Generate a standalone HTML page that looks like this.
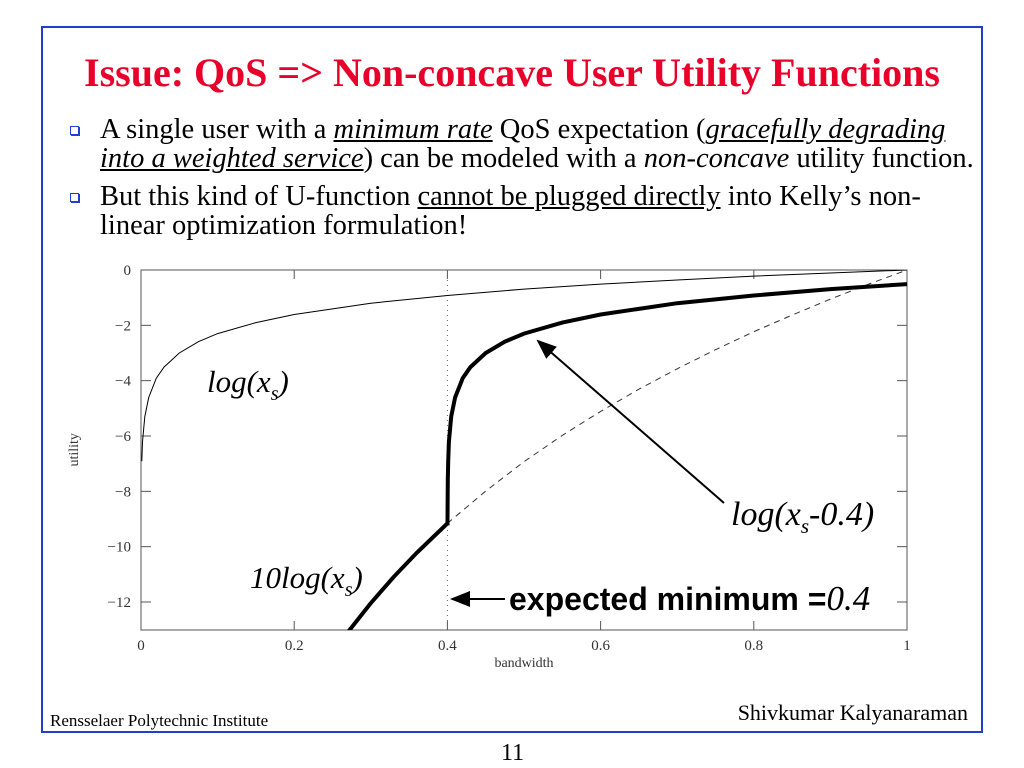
<!DOCTYPE html>
<html><head><meta charset="utf-8"><style>
body{margin:0;width:1024px;height:768px;background:#fff;position:relative;overflow:hidden;font-family:"Liberation Serif",serif}
.frame{position:absolute;left:41px;top:26px;width:942px;height:707px;border:2px solid #1f3fd0;box-sizing:border-box}
h1{position:absolute;left:0;width:1024px;top:49px;margin:0;text-align:center;color:#e8002a;font-size:40px;line-height:48px;font-weight:bold;white-space:nowrap}
.b{position:absolute;left:62px;font-size:28.5px;line-height:28.5px;color:#000;width:920px;white-space:nowrap}
.b .sq{position:absolute;left:8px;top:10px;width:7px;height:7px;border:1.5px solid #1f3fd0;box-shadow:1px 1px 0 #1f3fd0}
.b .t{margin-left:38px}
.foot{position:absolute;font-size:17px;left:50px;top:711px}
.auth{position:absolute;font-size:22px;right:56px;top:700px}
.pg{position:absolute;font-size:24px;left:501px;top:740px}
svg{position:absolute;left:0;top:0}
</style></head><body>
<div class="frame"></div>
<h1>Issue: QoS =&gt; Non-concave User Utility Functions</h1>
<div class="b" style="top:116px"><span class="sq"></span><div class="t">A single user with a <i><u>minimum rate</u></i> QoS expectation (<i><u>gracefully degrading</u></i><br><i><u>into a weighted service</u></i>) can be modeled with a <i>non-concave</i> utility function.</div></div>
<div class="b" style="top:183px"><span class="sq"></span><div class="t">But this kind of U-function <u>cannot be plugged directly</u> into Kelly’s non-<br>linear optimization formulation!</div></div>
<div class="foot">Rensselaer Polytechnic Institute</div>
<div class="auth">Shivkumar Kalyanaraman</div>
<div class="pg">11</div>
<svg id="chart" width="1024" height="768"></svg>
<script>
const xTicks=[0,0.2,0.4,0.6,0.8,1];
const yTicks=[0,-2,-4,-6,-8,-10,-12];
const logX=[0.001,0.002,0.005,0.01,0.02,0.03,0.05,0.075,0.1,0.15,0.2,0.3,0.4,0.5,0.6,0.7,0.8,0.9,1];
const logY=[-6.91,-6.21,-5.30,-4.61,-3.91,-3.51,-3.00,-2.59,-2.30,-1.90,-1.61,-1.20,-0.92,-0.69,-0.51,-0.36,-0.22,-0.11,0];
const dashX=[0.4,0.45,0.5,0.55,0.6,0.65,0.7,0.75,0.8,0.85,0.9,0.95,1];
const dashY=[-9.16,-7.99,-6.93,-5.98,-5.11,-4.31,-3.57,-2.88,-2.23,-1.63,-1.05,-0.51,0];
const boldX=[0.27,0.3,0.33,0.36,0.4,0.4001,0.4002,0.4005,0.401,0.402,0.405,0.41,0.42,0.43,0.45,0.475,0.5,0.55,0.6,0.7,0.8,0.9,1];
const boldY=[-13.09,-12.04,-11.09,-10.22,-9.16,-9.16,-8.52,-7.60,-6.91,-6.21,-5.30,-4.61,-3.91,-3.51,-3.00,-2.59,-2.30,-1.90,-1.61,-1.20,-0.92,-0.69,-0.51];
const minRate=0.4;
const L=141,R=907,T=270,B=630;
const sx=v=>L+(R-L)*v, sy=v=>T+(0-v)*(602-270)/12;
const svg=document.getElementById('chart');const NS='http://www.w3.org/2000/svg';
function mk(tag,at,txt){const e=document.createElementNS(NS,tag);for(const k in at)e.setAttribute(k,at[k]);if(txt!==undefined)e.textContent=txt;svg.appendChild(e);return e;}
const defs=mk('defs',{});defs.innerHTML='<clipPath id="cp"><rect x="'+L+'" y="'+T+'" width="'+(R-L)+'" height="'+(B-T)+'"/></clipPath><marker id="ah" markerWidth="10" markerHeight="8" refX="9" refY="4" orient="auto"><path d="M0,0L10,4L0,8z" fill="#000"/></marker>';
let e=mk('rect',{x:L,y:T,width:R-L,height:B-T,fill:'none',stroke:'#555','stroke-width':1});

xTicks.forEach(v=>{
 e=mk('line',{x1:sx(v),x2:sx(v),y1:B,y2:B-9,stroke:'#555'});
 e=mk('line',{x1:sx(v),x2:sx(v),y1:T,y2:T+9,stroke:'#555'});
 e=mk('text',{x:sx(v),y:B+20,'text-anchor':'middle','font-size':15,fill:'#333','font-family':'Liberation Serif'},String(v));
});
yTicks.forEach(v=>{
 e=mk('line',{x1:L,x2:L+10,y1:sy(v),y2:sy(v),stroke:'#555'});
 e=mk('line',{x1:R,x2:R-10,y1:sy(v),y2:sy(v),stroke:'#555'});
 e=mk('text',{x:L-10,y:sy(v)+5,'text-anchor':'end','font-size':15,fill:'#333','font-family':'Liberation Serif'},v<0?'\u2212'+(-v):String(v));
});
e=mk('text',{x:sx(0.5),y:B+37,'text-anchor':'middle','font-size':14,fill:'#333'},'bandwidth');
e=mk('text',{x:0,y:0,'text-anchor':'middle','font-size':14,fill:'#333',transform:'translate(78,'+sy(-6.5)+') rotate(-90)'},'utility');
e=mk('line',{x1:sx(minRate),x2:sx(minRate),y1:T,y2:B,stroke:'#666','stroke-dasharray':'1,4'});
const pts=(xs,ys)=>xs.map((x,i)=>sx(x).toFixed(1)+','+sy(ys[i]).toFixed(1)).join(' ');
e=mk('polyline',{points:pts(logX,logY),fill:'none',stroke:'#000','stroke-width':1,'clip-path':'url(#cp)'});
e=mk('polyline',{points:pts(dashX,dashY),fill:'none',stroke:'#333','stroke-width':1,'stroke-dasharray':'6,5','clip-path':'url(#cp)'});
e=mk('polyline',{points:pts(boldX,boldY),fill:'none',stroke:'#000','stroke-width':4,'clip-path':'url(#cp)'});
e=mk('line',{x1:724,y1:503,x2:538,y2:341,stroke:'#000','stroke-width':2,'marker-end':'url(#ah)'});
e=mk('line',{x1:505,y1:599,x2:452,y2:599,stroke:'#000','stroke-width':2,'marker-end':'url(#ah)'});
const lab=(x,y,html,name,size)=>{const t=mk('text',{x:x,y:y,'font-size':size||31,'font-style':'italic','font-family':'Liberation Serif'});t.innerHTML=html;};
lab(207,392,'log(x<tspan dy="8" font-size="20">s</tspan><tspan dy="-8">)</tspan>','log-label');
lab(731,525,'log(x<tspan dy="8" font-size="21">s</tspan><tspan dy="-8">-0.4)</tspan>','shifted-log-label',34);
lab(250,588,'10log(x<tspan dy="8" font-size="20">s</tspan><tspan dy="-8">)</tspan>','10log-label');
e=mk('text',{x:509,y:610,'font-size':32,'font-weight':'bold','font-family':'Liberation Sans'});e.innerHTML='expected minimum =<tspan font-family="Liberation Serif" font-style="italic" font-weight="normal" font-size="35">0.4</tspan>';

</script>
</body></html>
